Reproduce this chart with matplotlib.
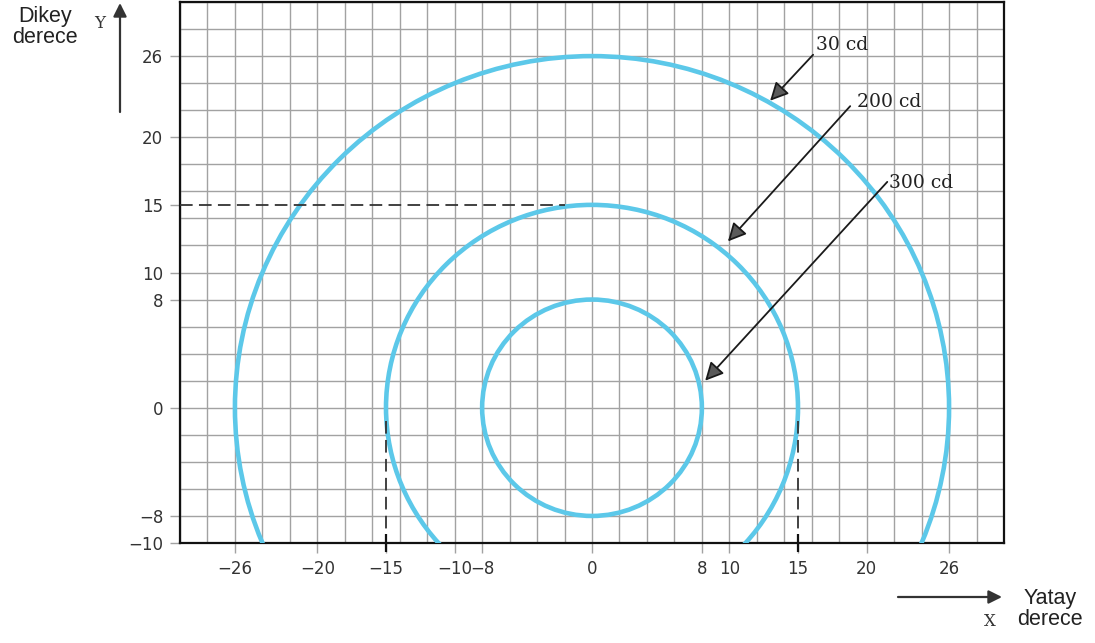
import numpy as np
import matplotlib.pyplot as plt
from matplotlib.patches import Circle

# iso-candela contours (radius in degrees) and their labels
radii = [26, 15, 8]
intensity_labels = ['30 cd', '200 cd', '300 cd']

x_ticks = [-26, -20, -15, -10, -8, 0, 8, 10, 15, 20, 26]
y_ticks = [-10, -8, 0, 8, 10, 15, 20, 26]

# reference level drawn with dashed guides
half_angle = 15

# label anchor, arrow tail and arrow head for each contour
label_pos = [(16.3, 26.8), (19.3, 22.6), (21.6, 16.6)]
arrow_tail = [(16.1, 26.1), (18.8, 22.3), (21.5, 16.7)]
arrow_head = [(12.97, 22.7), (9.9, 12.3), (8.24, 2.0)]

W, H = 1095, 643
fig = plt.figure(figsize=(W / 100, H / 100), dpi=100)
ax = fig.add_axes([180 / W, 100 / H, 824 / W, 541 / H])

ax.set_xlim(-30, 30)
ax.set_ylim(-10, 30)

# 2-degree grid on minor ticks (keep the ones sitting under major ticks too)
ax.xaxis.remove_overlapping_locs = False
ax.yaxis.remove_overlapping_locs = False
ax.set_xticks(np.arange(-30, 31, 2), minor=True)
ax.set_yticks(np.arange(-10, 31, 2), minor=True)
ax.grid(which='minor', color='#a2a2a2', linewidth=1.0)
ax.tick_params(which='minor', length=0)

ax.set_xticks(x_ticks)
ax.set_yticks(y_ticks)
ax.tick_params(which='major', direction='out', length=7, width=1.0,
               color='#a2a2a2', labelcolor='#333333', labelsize=12, pad=5)
ax.set_axisbelow(True)

for side in ax.spines.values():
    side.set_linewidth(1.6)
    side.set_color('#111111')

for r in radii:
    ax.add_patch(Circle((0, 0), r, fill=False, edgecolor='#5cc8e9',
                        linewidth=3.3, zorder=3))

# dashed guides at the 15 degree marks
ax.plot([-30, -2], [half_angle, half_angle], color='#333333', lw=1.3,
        dashes=(7, 3.5), zorder=4)
for sx in (-half_angle, half_angle):
    ax.plot([sx, sx], [-1, -10], color='#333333', lw=1.3,
            dashes=(7, 3.5), zorder=4)
    ax.plot([sx], [-10], marker='|', markersize=13, markeredgewidth=1.6,
            color='#111111', clip_on=False, zorder=5)

for lab, lp, tail, head in zip(intensity_labels, label_pos, arrow_tail, arrow_head):
    ax.annotate('', xy=head, xytext=tail,
                arrowprops=dict(arrowstyle='-|>,head_length=0.5,head_width=0.25',
                                edgecolor='#1a1a1a', facecolor='#5a5a5a', lw=1.3,
                                mutation_scale=22, shrinkA=0, shrinkB=0),
                zorder=6)
    ax.text(lp[0], lp[1], lab, ha='left', va='center', fontsize=13.5,
            family='DejaVu Serif', color='#222222', zorder=6)

# axis captions outside the frame
fig.text(45 / W, 1 - 27 / H, 'Dikey\nderece', ha='center', va='center',
         fontsize=15.5, family='Liberation Sans', color='#222222',
         linespacing=1.05)
fig.text(100 / W, 1 - 24 / H, 'Y', ha='center', va='center', fontsize=12,
         family='DejaVu Serif', color='#333333')
fig.text(1050 / W, 1 - 609 / H, 'Yatay\nderece', ha='center', va='center',
         fontsize=15.5, family='Liberation Sans', color='#222222',
         linespacing=1.05)
fig.text(990 / W, 1 - 622 / H, 'X', ha='center', va='center', fontsize=12,
         family='DejaVu Serif', color='#333333')

arrow_kw = dict(arrowstyle='-|>', color='#333333', lw=1.6, mutation_scale=20,
                shrinkA=0, shrinkB=0, facecolor='#444444')
fig.add_artist(plt.Annotation('', xy=(120 / W, 1 - 3 / H), xytext=(120 / W, 1 - 112 / H),
                              xycoords='figure fraction', textcoords='figure fraction',
                              arrowprops=arrow_kw))
fig.add_artist(plt.Annotation('', xy=(1002 / W, 1 - 597 / H), xytext=(898 / W, 1 - 597 / H),
                              xycoords='figure fraction', textcoords='figure fraction',
                              arrowprops=arrow_kw))

fig.savefig('out.png', dpi=100)
